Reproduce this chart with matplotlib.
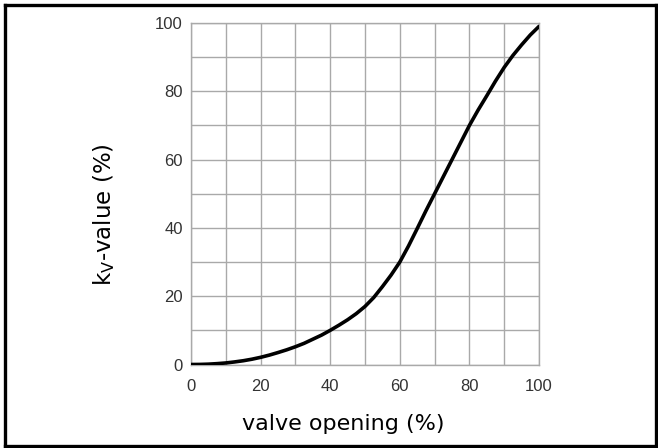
import matplotlib
matplotlib.use("Agg")
import matplotlib.pyplot as plt
from matplotlib.lines import Line2D

plt.rcParams["font.family"] = ["Liberation Sans", "DejaVu Sans"]
plt.rcParams["mathtext.fontset"] = "dejavusans"

# valve characteristic
opening = [0, 2.5, 5, 7.5, 10, 12.5, 15, 17.5, 20, 22.5, 25, 27.5, 30, 32.5, 35, 37.5,
           40, 42.5, 45, 47.5, 50, 52.5, 55, 57.5, 60, 62.5, 65, 67.5, 70, 72.5, 75,
           77.5, 80, 82.5, 85, 87.5, 90, 92.5, 95, 97.5, 100]
kv = [0, 0.02, 0.1, 0.25, 0.45, 0.75, 1.1, 1.55, 2.1, 2.75, 3.5, 4.3, 5.2, 6.2, 7.4, 8.6,
      10, 11.5, 13.1, 14.9, 17, 19.6, 22.8, 26.2, 30, 34.7, 39.8, 45, 50, 55, 60,
      65, 70, 74.5, 78.7, 83, 87, 90.5, 93.6, 96.5, 99]

major_ticks = [0, 20, 40, 60, 80, 100]
minor_ticks = [10, 30, 50, 70, 90]

fig = plt.figure(figsize=(6.58, 4.48), dpi=100)
ax = fig.add_axes([191 / 658, 83.5 / 448, 348 / 658, 341.5 / 448])

grid_col = "#a9a9a9"
ax.plot(opening, kv, color="black", linewidth=2.6, solid_capstyle="round", zorder=3)

ax.set_xlim(0, 100)
ax.set_ylim(0, 100)
ax.set_xticks(major_ticks)
ax.set_yticks(major_ticks)
ax.set_xticks(minor_ticks, minor=True)
ax.set_yticks(minor_ticks, minor=True)
ax.grid(True, which="both", color=grid_col, linewidth=1.0)
ax.tick_params(which="both", length=0)
ax.tick_params(axis="x", pad=10.5, labelsize=12, labelcolor="#333333")
ax.tick_params(axis="y", pad=6, labelsize=12, labelcolor="#333333")
for s in ax.spines.values():
    s.set_color(grid_col)
    s.set_linewidth(1.0)

ax.set_xlabel("valve opening (%)", fontsize=16, family="DejaVu Sans")
ax.set_ylabel(r"k$_\mathregular{V}$-value (%)", fontsize=16.5, family="DejaVu Sans")
ax.xaxis.set_label_coords(0.437, -0.145)
ax.yaxis.set_label_coords(-0.213, 0.44)

# outer frame
lw = 2.4
fig.add_artist(Line2D([5 / 658, 5 / 658], [0, 443 / 448], transform=fig.transFigure, color="black", lw=lw))
fig.add_artist(Line2D([5 / 658, 1], [443 / 448, 443 / 448], transform=fig.transFigure, color="black", lw=lw))
fig.add_artist(Line2D([656 / 658, 656 / 658], [0, 443 / 448], transform=fig.transFigure, color="black", lw=lw))
fig.add_artist(Line2D([5 / 658, 1], [2 / 448, 2 / 448], transform=fig.transFigure, color="black", lw=lw))

fig.savefig("out.png", dpi=100)
